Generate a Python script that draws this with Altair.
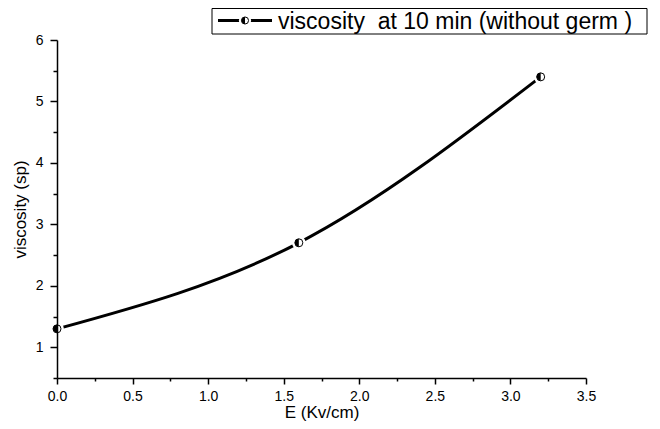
import altair as alt
import pandas as pd

# Data
E_values = [0.0, 1.6, 3.2]
viscosity = [1.3, 2.7, 5.4]
series_label = "viscosity\u00a0 at 10 min (without germ )"

x_ticks = [i * 0.25 for i in range(15)]        # 0 .. 3.5
y_ticks = [0.5 + i * 0.5 for i in range(12)]   # 0.5 .. 6

df = pd.DataFrame({"E": E_values, "visc": viscosity})
leg = pd.DataFrame({"label": [series_label]})

FONT = "Liberation Sans"
HALF = "M0,-1A1,1,0,0,0,0,1Z"

x_enc = alt.X(
    "E:Q",
    scale=alt.Scale(domain=[0, 3.5], nice=False, zero=False),
    axis=alt.Axis(
        title="E (Kv/cm)",
        values=x_ticks,
        labelExpr="datum.value % 0.5 === 0 ? format(datum.value, '.1f') : ''",
        tickSize={"condition": {"test": "datum.value % 0.5 === 0", "value": 6}, "value": 3},
        labelPadding=5,
        titlePadding=1,
        labelFlush=False,
        grid=False,
        zindex=1,
    ),
)
y_enc = alt.Y(
    "visc:Q",
    scale=alt.Scale(domain=[0.5, 6], nice=False, zero=False),
    axis=alt.Axis(
        title="viscosity (sp)",
        values=y_ticks,
        labelExpr="datum.value % 1 === 0 ? format(datum.value, 'd') : ''",
        tickSize={"condition": {"test": "datum.value % 1 === 0", "value": 7}, "value": 4},
        labelPadding=7,
        titlePadding=6,
        labelFlush=False,
        grid=False,
        zindex=1,
    ),
)

base = alt.Chart(df).encode(x=x_enc, y=y_enc)

line = base.mark_line(interpolate="natural", color="black", strokeWidth=3)
halo = base.mark_point(shape="circle", filled=True, color="white", opacity=1, size=190)
ring = base.mark_point(shape="circle", filled=True, fill="white", stroke="black",
                       strokeWidth=1, opacity=1, size=64)
half = base.mark_point(shape=HALF, filled=True, color="black", opacity=1, size=64)

# legend box
lb = alt.Chart(leg)
box = lb.mark_rect(fill="white", stroke="black", strokeWidth=1).encode(
    x=alt.value(155), x2=alt.value(590), y=alt.value(-31.5), y2=alt.value(-6)
)
leg_line = lb.mark_rule(color="black", strokeWidth=3).encode(
    x=alt.value(161), x2=alt.value(215), y=alt.value(-19.5)
)
leg_halo = lb.mark_point(shape="circle", filled=True, color="white", opacity=1, size=150).encode(
    x=alt.value(188), y=alt.value(-19.5)
)
leg_ring = lb.mark_point(shape="circle", filled=True, fill="white", stroke="black",
                         strokeWidth=1, opacity=1, size=50).encode(
    x=alt.value(188), y=alt.value(-19.5)
)
leg_half = lb.mark_point(shape=HALF, filled=True, color="black", opacity=1, size=50).encode(
    x=alt.value(188), y=alt.value(-19.5)
)
leg_text = lb.mark_text(align="left", baseline="alphabetic", font=FONT, fontSize=23,
                        color="black").encode(
    x=alt.value(221), y=alt.value(-11), text="label:N"
)

chart = alt.layer(
    line, halo, ring, half, box, leg_line, leg_halo, leg_ring, leg_half, leg_text
).properties(
    width=529,
    height=338,
    autosize=alt.AutoSizeParams(type="none"),
    padding={"left": 49, "top": 32, "right": 66, "bottom": 44},
).configure_view(
    stroke=None
).configure_axis(
    domainColor="black",
    domainWidth=1.5,
    tickColor="black",
    tickWidth=1.5,
    labelFont=FONT,
    labelFontSize=14,
    labelColor="black",
    titleFont=FONT,
    titleFontSize=17,
    titleFontWeight="normal",
    titleColor="black",
)

chart.save("out.html", embed_options={"renderer": "svg", "actions": False})
